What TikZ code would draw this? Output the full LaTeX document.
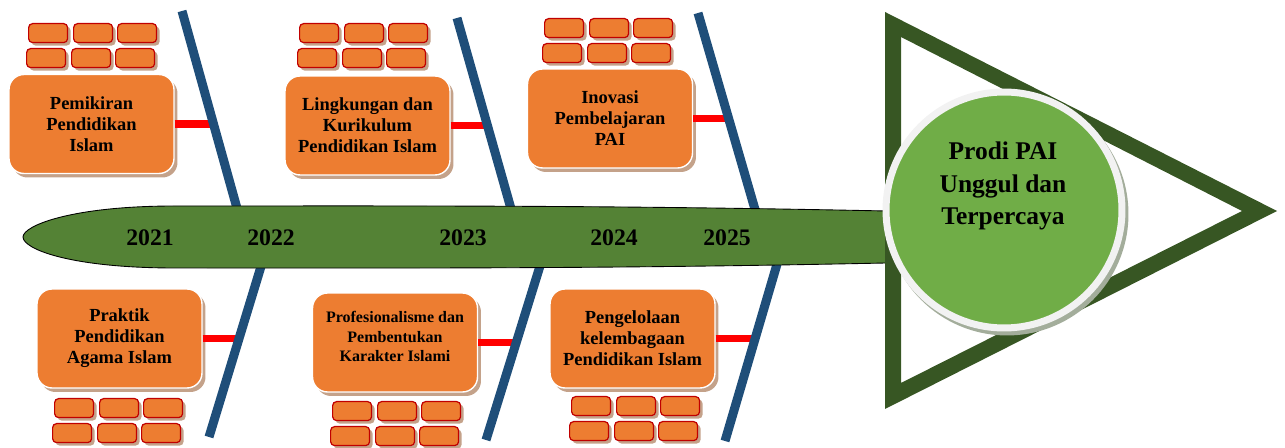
\documentclass[tikz,border=0pt]{standalone}
\usepackage{fontspec}
\setmainfont{Liberation Serif}
\usetikzlibrary{shadows}
\definecolor{boxorange}{HTML}{ED7D31}
\definecolor{brickred}{HTML}{C00000}
\definecolor{shadowtan}{HTML}{C4A28A}
\definecolor{spineblue}{HTML}{1F4E79}
\definecolor{linkred}{HTML}{FF0000}
\definecolor{bandgreen}{HTML}{548235}
\definecolor{trigreen}{HTML}{375623}
\definecolor{goalgreen}{HTML}{70AD47}
\definecolor{ringgray}{HTML}{F2F2F2}
\definecolor{goalshadow}{HTML}{A3AD9B}
\newcommand{\brickwall}[3]{%
  \foreach \k/\dx in {1/0,2/45,3/89}{%
    \node[brick, anchor=north west] (#1a\k) at (#2+\dx,#3) {};
    \node[brick, anchor=north west] (#1b\k) at (#2+\dx-2,#3+25) {};
  }}
\begin{document}
\begin{tikzpicture}[x=0.02cm,y=-0.02cm,
  topicbox/.style={rectangle, rounded corners=0.3cm, fill=boxorange, draw=white,
    line width=0.8pt, minimum width=3.3cm, minimum height=1.98cm, inner sep=0pt,
    align=center, font=\bfseries\fontsize{10.5}{12}\selectfont,
    drop shadow={shadow xshift=0.07cm, shadow yshift=-0.08cm, fill=shadowtan, opacity=1}},
  smalltext/.style={align=center, inner sep=0pt, font=\bfseries\fontsize{9.1}{11.1}\selectfont},
  brick/.style={rectangle, rounded corners=0.08cm, fill=boxorange, draw=brickred,
    line width=0.7pt, minimum width=0.78cm, minimum height=0.38cm, inner sep=0pt,
    drop shadow={shadow xshift=0.06cm, shadow yshift=-0.06cm, fill=shadowtan, opacity=1}},
  spine/.style={draw=spineblue, line width=0.18cm},
  link/.style={draw=linkred, line width=0.15cm},
  year/.style={font=\bfseries\fontsize{13.5}{16}\selectfont, inner sep=0pt},
  goalcircle/.style={circle, fill=goalgreen, draw=ringgray, line width=0.14cm,
    minimum size=4.72cm, inner sep=0pt},
  goaltext/.style={align=center, font=\bfseries\fontsize{14.5}{18.5}\selectfont, inner sep=0pt},
]
\useasboundingbox (0,0) rectangle (1285,448);

% bricks
\brickwall{wa}{28}{23}
\brickwall{wb}{299}{23}
\brickwall{wc}{544}{18}
\brickwall{wd}{54}{398}
\brickwall{we}{332}{401}
\brickwall{wf}{571}{396}

% topic boxes
\node[topicbox] (b1) at (91.5,124) {Pemikiran\\Pendidikan\\Islam};
\node[topicbox] (b2) at (367.5,125.5) {Lingkungan dan\\Kurikulum\\Pendidikan Islam};
\node[topicbox] (b3) at (610,118.5) {Inovasi\\Pembelajaran\\PAI};
\node[topicbox] (b4) at (119.5,338.5) {Praktik\\Pendidikan\\Agama Islam};
\node[topicbox] (b5) at (395,342.5) {};
\node[smalltext] (b5text) at (395,336.5) {Profesionalisme dan\\Pembentukan\\Karakter Islami};
\node[topicbox] (b6) at (632.5,338.5) {Pengelolaan\\kelembagaan\\Pendidikan Islam};

% spine line end points
\coordinate (t1a) at (182,11);  \coordinate (t1b) at (245,237);
\coordinate (t2a) at (457,18);  \coordinate (t2b) at (519,237);
\coordinate (t3a) at (698,13);  \coordinate (t3b) at (763,237);
\coordinate (u1a) at (270,237); \coordinate (u1b) at (209,437);
\coordinate (u2a) at (549,237); \coordinate (u2b) at (486,440);
\coordinate (u3a) at (785,237); \coordinate (u3b) at (725,441);
% points where the red links meet the spines
\coordinate (l1) at (213.6,124);
\coordinate (l2) at (487.6,125.5);
\coordinate (l3) at (728.4,118.5);
\coordinate (l4) at (239.2,338.5);
\coordinate (l5) at (516.4,342.5);
\coordinate (l6) at (754.9,338.5);

% red links
\draw[link] (b1.east) -- (b1.east -| l1);
\draw[link] (b2.east) -- (b2.east -| l2);
\draw[link] (b3.east) -- (b3.east -| l3);
\draw[link] (b4.east) -- (b4.east -| l4);
\draw[link] (b5.east) -- (b5.east -| l5);
\draw[link] (b6.east) -- (b6.east -| l6);

% blue spines
\draw[spine] (t1a) -- (t1b);
\draw[spine] (t2a) -- (t2b);
\draw[spine] (t3a) -- (t3b);
\draw[spine] (u1a) -- (u1b);
\draw[spine] (u2a) -- (u2b);
\draw[spine] (u3a) -- (u3b);

% green band
\draw[fill=bandgreen, draw=black, line width=0.5pt]
  (886,211) .. controls (600,205) and (400,206) .. (175,206)
  .. controls (70,206) and (23,226) .. (23,237)
  .. controls (23,249) and (70,268) .. (175,268)
  .. controls (400,268) and (600,269) .. (886,263) -- cycle;

% years
\node[year] (y1) at (150,238) {2021};
\node[year] (y2) at (271,238) {2022};
\node[year] (y3) at (463,238) {2023};
\node[year] (y4) at (614,238) {2024};
\node[year] (y5) at (727,238) {2025};

% triangle head
\fill[trigreen, even odd rule]
  (885,12) -- (1277,211) -- (885,409) -- cycle
  (901,37) -- (1242,211) -- (901,383) -- cycle;

% goal circle
\fill[goalshadow] (1007,214) circle (2.43cm);
\node[goalcircle] (goal) at (1004,210) {};
\node[goaltext] (goallabel) at (1003,186) {Prodi PAI\\Unggul dan\\Terpercaya};
\end{tikzpicture}
\end{document}
